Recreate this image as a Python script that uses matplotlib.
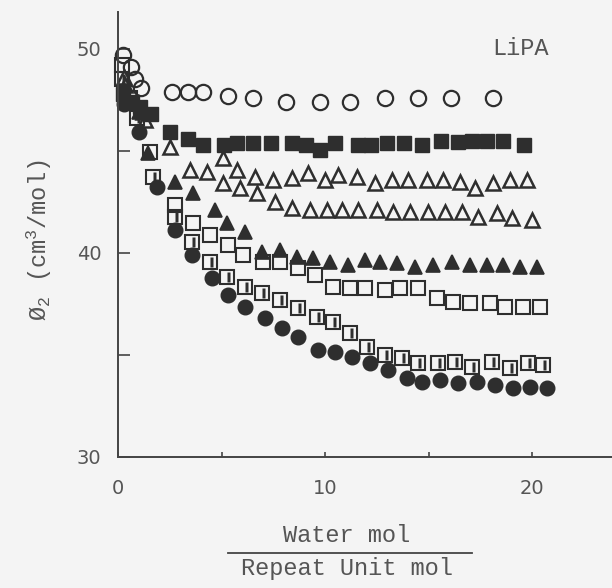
import matplotlib
matplotlib.use("Agg")
import matplotlib.pyplot as plt
from matplotlib.path import Path
from matplotlib.lines import Line2D

# ---------------- data ----------------
oc_x = [0.24, 0.63, 0.82, 1.11, 2.61, 3.38, 4.11, 5.31, 6.52, 8.1, 9.76, 11.2, 12.9, 14.5, 16.1, 18.1]
oc_y = [49.7, 49.1, 48.5, 48.1, 47.9, 47.9, 47.9, 47.7, 47.6, 47.4, 47.4, 47.4, 47.6, 47.6, 47.6, 47.6]

fs_x = [0.24, 0.68, 1.06, 1.6, 2.5, 3.4, 4.1, 5.1, 5.75, 6.5, 7.4, 8.4, 9.1, 9.75, 10.5,
        11.6, 12.2, 13.0, 13.8, 14.7, 15.6, 16.4, 17.1, 17.8, 18.6, 19.6]
fs_y = [47.8, 47.4, 47.15, 46.8, 45.9, 45.6, 45.3, 45.3, 45.4, 45.4, 45.4, 45.4, 45.3, 45.05, 45.4,
        45.3, 45.3, 45.4, 45.4, 45.3, 45.5, 45.45, 45.5, 45.5, 45.5, 45.3]

ot1_x = [0.3, 1.2, 3.48, 4.3, 5.07, 5.75, 6.62, 7.49, 8.41, 9.18, 10.0, 10.63, 11.55, 12.42,
         13.24, 14.01, 14.93, 15.70, 16.52, 17.25, 18.12, 18.94, 19.76]
ot1_y = [48.6, 46.9, 44.07, 43.97, 44.66, 44.07, 43.73, 43.58, 43.68, 43.92, 43.58, 43.82, 43.73, 43.43,
         43.58, 43.58, 43.58, 43.58, 43.48, 43.19, 43.43, 43.58, 43.58]

ot2_x = [0.35, 1.3, 2.5, 5.07, 5.89, 6.71, 7.58, 8.41, 9.28, 10.1, 10.82, 11.59, 12.51, 13.29,
         14.11, 14.98, 15.80, 16.62, 17.39, 18.31, 19.03, 20.0]
ot2_y = [48.2, 46.5, 45.2, 43.43, 43.19, 42.94, 42.50, 42.21, 42.11, 42.11, 42.11, 42.11, 42.11, 42.01,
         42.01, 42.01, 42.01, 42.01, 41.76, 41.96, 41.72, 41.62]

ft_x = [0.3, 1.0, 1.45, 2.75, 3.62, 4.69, 5.27, 6.14, 6.96, 7.83, 8.65, 9.42, 10.24, 11.11, 11.93,
        12.66, 13.48, 14.35, 15.22, 16.14, 17.0, 17.83, 18.60, 19.42, 20.24]
ft_y = [48.0, 46.9, 44.9, 43.48, 42.94, 42.11, 41.47, 41.03, 40.05, 40.15, 39.80, 39.75, 39.56, 39.41, 39.66,
        39.56, 39.51, 39.31, 39.41, 39.56, 39.41, 39.41, 39.41, 39.31, 39.31]

os_x = [0.2, 0.6, 1.55, 2.75, 3.62, 4.44, 5.31, 6.04, 7.0, 7.83, 8.70, 9.52, 10.39, 11.21, 11.93,
        12.90, 13.62, 14.49, 15.41, 16.18, 17.0, 17.97, 18.70, 19.57, 20.39]
os_y = [49.2, 47.6, 44.95, 42.35, 41.47, 40.88, 40.39, 39.90, 39.56, 39.56, 39.26, 38.92, 38.33, 38.28, 38.28,
        38.19, 38.28, 38.28, 37.79, 37.60, 37.55, 37.55, 37.35, 37.35, 37.35]

bs_x = [0.2, 0.9, 1.69, 2.75, 3.57, 4.44, 5.27, 6.14, 6.96, 7.83, 8.70, 9.61, 10.39, 11.21, 12.03,
        12.90, 13.72, 14.49, 15.46, 16.28, 17.10, 18.07, 18.94, 19.81, 20.53]
bs_y = [48.5, 46.6, 43.73, 41.76, 40.54, 39.56, 38.82, 38.33, 38.04, 37.70, 37.30, 36.86, 36.62, 36.08, 35.39,
        35.0, 34.85, 34.61, 34.61, 34.66, 34.41, 34.66, 34.36, 34.61, 34.51]

fc_x = [0.3, 1.0, 1.88, 2.75, 3.57, 4.54, 5.31, 6.14, 7.10, 7.92, 8.70, 9.66, 10.48, 11.30, 12.17,
        13.04, 13.96, 14.69, 15.56, 16.43, 17.34, 18.21, 19.08, 19.90, 20.72]
fc_y = [47.3, 45.9, 43.24, 41.13, 39.90, 38.77, 37.94, 37.35, 36.81, 36.32, 35.88, 35.25, 35.15, 34.90, 34.61,
        34.26, 33.87, 33.68, 33.77, 33.63, 33.68, 33.53, 33.38, 33.43, 33.38]

x_ticks = [0, 10, 20]
x_minor = [5, 15]
y_ticks = [30, 40, 50]
y_minor = [35, 45]
panel_label = "LiPA"
x_label_top = "Water mol"
x_label_bottom = "Repeat Unit mol"

# ---------------- styling ----------------
BG = "#f4f4f4"
INK = "#2e2e2e"
TXT = "#555555"
plt.rcParams["mathtext.fontset"] = "custom"
plt.rcParams["mathtext.rm"] = "Liberation Mono"
plt.rcParams["mathtext.it"] = "Liberation Mono"

fig = plt.figure(figsize=(6.12, 5.88), dpi=100)
fig.patch.set_facecolor(BG)
ax = fig.add_axes([0.1928, 0.2228, 0.8072, 0.7568])
ax.set_facecolor("none")
ax.set_xlim(0, 23.86)
ax.set_ylim(30, 51.8)

for s in ("top", "right"):
    ax.spines[s].set_visible(False)
for s in ("left", "bottom"):
    ax.spines[s].set_color("#444444")
    ax.spines[s].set_linewidth(1.4)

ax.set_xticks(x_ticks)
ax.set_xticks(x_minor, minor=True)
ax.set_yticks(y_ticks)
ax.set_yticks(y_minor, minor=True)
ax.set_xticklabels([str(v) for v in x_ticks])
ax.set_yticklabels([str(v) for v in y_ticks])
ax.tick_params(axis="x", which="both", direction="in", length=3.5, width=1.2,
               color="#444444", pad=16, labelsize=14, labelcolor=TXT)
ax.tick_params(axis="y", which="both", direction="in", length=8.5, width=1.2,
               color="#444444", pad=12, labelsize=14, labelcolor=TXT)

kw = dict(linestyle="none", clip_on=False)
ax.plot(oc_x, oc_y, marker="o", ms=11, mfc="none", mec=INK, mew=1.6, **kw)
ax.plot(fs_x, fs_y, marker="s", ms=10, mfc=INK, mec=INK, mew=1.0, **kw)
ax.plot(ot1_x, ot1_y, marker="^", ms=10.5, mfc="none", mec=INK, mew=1.8, **kw)
ax.plot(ot2_x, ot2_y, marker="^", ms=10.5, mfc="none", mec=INK, mew=1.8, **kw)
ax.plot(ft_x, ft_y, marker="^", ms=10.5, mfc=INK, mec=INK, mew=1.2, **kw)
ax.plot(os_x, os_y, marker="s", ms=10, mfc="none", mec=INK, mew=1.5, **kw)
ax.plot(bs_x, bs_y, marker="s", ms=10, mfc="none", mec=INK, mew=1.5, **kw)
bar = Path([(0, -1), (0.6, -1), (0.6, 1), (0, 1), (0, -1)],
           [Path.MOVETO, Path.LINETO, Path.LINETO, Path.LINETO, Path.CLOSEPOLY])
ax.plot(bs_x, bs_y, marker=bar, ms=7.5, mfc=INK, mec="none", **kw)
ax.plot(fc_x, fc_y, marker="o", ms=10.5, mfc=INK, mec=INK, mew=1.0, **kw)

# texts
fig.text(0.851, 0.918, panel_label, family="Liberation Mono", fontsize=17,
         color=TXT, ha="center", va="center")
fig.text(0.065, 0.592, "Ø$_2$ (cm$^3$/mol)", family="Liberation Mono", fontsize=17,
         color=TXT, ha="center", va="center", rotation=90)
fig.text(0.567, 1 - 536 / 588, x_label_top, family="Liberation Mono", fontsize=17,
         color=TXT, ha="center", va="center")
fig.text(0.567, 1 - 569 / 588, x_label_bottom, family="Liberation Mono", fontsize=17,
         color=TXT, ha="center", va="center")
fig.add_artist(Line2D([228 / 612, 472 / 612], [1 - 553 / 588, 1 - 553 / 588],
                      transform=fig.transFigure, color="#444444", lw=1.3))

fig.savefig("out.png", dpi=100, facecolor=BG)
